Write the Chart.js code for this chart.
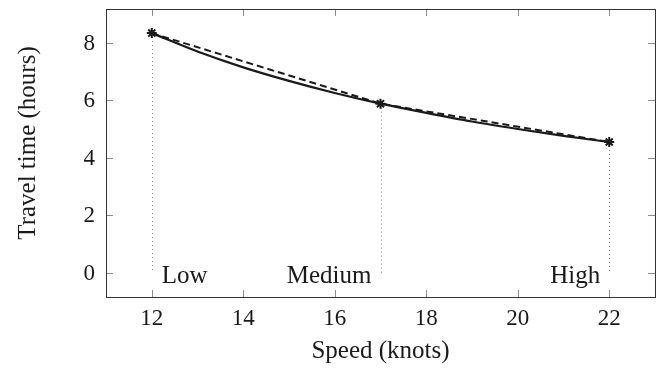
<!DOCTYPE html>
<html>
<head>
<meta charset="utf-8">
<script src="https://cdn.jsdelivr.net/npm/chart.js@4.4.1/dist/chart.umd.min.js"></script>
<style>
  html, body { margin: 0; padding: 0; background: #fff; }
  #wrap { width: 662px; height: 369px; }
</style>
</head>
<body>
<div id="wrap"><canvas id="chart"></canvas></div>
<script>
// ---- data ----
const levelNames  = ['Low', 'Medium', 'High'];
const levelSpeeds = [12, 17, 22];
const levelTimes  = [8.33, 5.88, 4.55];

// smooth travel-time curve (solid)
const curveSpeeds = [12, 13, 14, 15, 16, 17, 18, 19, 20, 21, 22];
const curveTimes  = [8.33, 7.69, 7.14, 6.67, 6.25, 5.88, 5.56, 5.26, 5.0, 4.76, 4.55];

const xTicks = [12, 14, 16, 18, 20, 22];
const yTicks = [0, 2, 4, 6, 8];

const FONT = "'Liberation Serif', 'Times New Roman', serif";
const INK = '#1a1a1a';

// frame, inner tick marks, y labels, dotted drop lines and level labels
const framePlugin = {
  id: 'frame',
  beforeDatasetsDraw(chart) {
    const { ctx, scales: { x, y } } = chart;
    ctx.save();
    ctx.strokeStyle = '#888';
    ctx.lineWidth = 1;
    ctx.setLineDash([1, 3]);
    levelSpeeds.forEach(function (s, i) {
      const px = Math.round(x.getPixelForValue(s)) + 0.5;
      ctx.beginPath();
      ctx.moveTo(px, y.getPixelForValue(levelTimes[i]));
      ctx.lineTo(px, y.getPixelForValue(0));
      ctx.stroke();
    });
    ctx.restore();
  },
  afterDraw(chart) {
    const { ctx, chartArea: a, scales: { x, y } } = chart;
    ctx.save();
    ctx.setLineDash([]);
    // inner tick marks on all four sides
    ctx.strokeStyle = '#8c8c8c';
    ctx.lineWidth = 1;
    const tl = 7;
    xTicks.forEach(function (t) {
      const px = Math.round(x.getPixelForValue(t)) + 0.5;
      ctx.beginPath();
      ctx.moveTo(px, a.bottom);
      ctx.lineTo(px, a.bottom - tl);
      ctx.stroke();
      ctx.beginPath();
      ctx.moveTo(px, a.top);
      ctx.lineTo(px, a.top + tl);
      ctx.stroke();
    });
    yTicks.forEach(function (t) {
      const py = Math.round(y.getPixelForValue(t)) + 0.5;
      ctx.beginPath();
      ctx.moveTo(a.left, py);
      ctx.lineTo(a.left + tl, py);
      ctx.stroke();
      ctx.beginPath();
      ctx.moveTo(a.right, py);
      ctx.lineTo(a.right - tl, py);
      ctx.stroke();
    });
    // frame
    ctx.strokeStyle = '#333';
    ctx.strokeRect(Math.round(a.left) + 0.5, Math.round(a.top) + 0.5,
                   Math.round(a.right - a.left), Math.round(a.bottom - a.top));

    ctx.fillStyle = INK;
    // y tick labels
    ctx.font = '23px ' + FONT;
    ctx.textAlign = 'right';
    ctx.textBaseline = 'middle';
    yTicks.forEach(function (t) {
      ctx.fillText(String(t), a.left - 11, y.getPixelForValue(t) + 1);
    });

    // y axis title
    ctx.save();
    ctx.font = '25px ' + FONT;
    ctx.translate(28, 143);
    ctx.rotate(-Math.PI / 2);
    ctx.textAlign = 'center';
    ctx.fillText('Travel time (hours)', 0, 0);
    ctx.restore();

    // level labels
    ctx.font = '25px ' + FONT;
    ctx.textBaseline = 'alphabetic';
    const base = y.getPixelForValue(0) + 10;
    levelNames.forEach(function (name, i) {
      const px = x.getPixelForValue(levelSpeeds[i]);
      if (i === 0) {
        ctx.textAlign = 'left';
        ctx.fillText(name, px + 10, base);
      } else {
        ctx.textAlign = 'right';
        ctx.fillText(name, px - 9, base);
      }
    });
    ctx.restore();
  }
};

const curvePoints = curveSpeeds.map(function (s, i) { return { x: s, y: curveTimes[i] }; });
const levelPoints = levelSpeeds.map(function (s, i) { return { x: s, y: levelTimes[i] }; });

new Chart(document.getElementById('chart'), {
  type: 'line',
  data: {
    datasets: [
      {
        label: 'Travel time',
        data: curvePoints,
        borderColor: INK,
        borderWidth: 2.2,
        pointRadius: 0,
        cubicInterpolationMode: 'monotone',
        fill: false,
        order: 1
      },
      {
        label: 'Levels',
        data: levelPoints,
        borderColor: INK,
        borderWidth: 2,
        borderDash: [7, 4],
        tension: 0,
        pointStyle: 'star',
        pointRadius: 5,
        pointBorderWidth: 2,
        pointBorderColor: INK,
        pointBackgroundColor: INK,
        fill: false,
        order: 0
      }
    ]
  },
  options: {
    responsive: true,
    maintainAspectRatio: false,
    animation: false,
    layout: { padding: { top: 9, right: 6, left: 0, bottom: 0 } },
    plugins: {
      legend: { display: false },
      tooltip: { enabled: false }
    },
    scales: {
      x: {
        type: 'linear',
        min: 11,
        max: 23,
        afterBuildTicks: function (s) { s.ticks = xTicks.map(function (v) { return { value: v }; }); },
        afterFit: function (s) { s.height = 72; },
        grid: { display: false, drawTicks: false },
        border: { display: false },
        ticks: { color: INK, padding: 8, maxRotation: 0, font: { family: FONT, size: 23 } },
        title: {
          display: true,
          text: 'Speed (knots)',
          color: INK,
          font: { family: FONT, size: 25, lineHeight: 1 },
          padding: { top: 0, bottom: 5 }
        }
      },
      y: {
        type: 'linear',
        min: -0.833,
        max: 9.167,
        afterBuildTicks: function (s) { s.ticks = yTicks.map(function (v) { return { value: v }; }); },
        afterFit: function (s) { s.width = 106; },
        grid: { display: false, drawTicks: false },
        border: { display: false },
        ticks: { display: false },
        title: { display: false }
      }
    }
  },
  plugins: [framePlugin]
});
</script>
</body>
</html>
